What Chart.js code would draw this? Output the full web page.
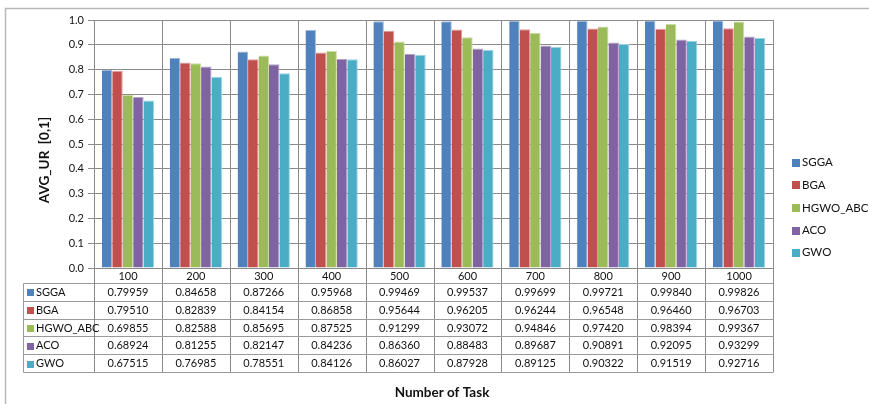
<!DOCTYPE html>
<html>
<head>
<meta charset="utf-8">
<script src="https://cdn.jsdelivr.net/npm/chart.js@4/dist/chart.umd.min.js"></script>
<style>
  html, body { margin: 0; padding: 0; background: #ffffff; }
  #wrap { width: 869px; height: 404px; }
</style>
</head>
<body>
<div id="wrap"><canvas id="c" width="869" height="404"></canvas></div>
<script>
// Task counts along the x axis
const categories = ['100', '200', '300', '400', '500', '600', '700', '800', '900', '1000'];

// Average utilisation rate per algorithm
const sgga     = [0.79959, 0.84658, 0.87266, 0.95968, 0.99469, 0.99537, 0.99699, 0.99721, 0.99840, 0.99826];
const bga      = [0.79510, 0.82839, 0.84154, 0.86858, 0.95644, 0.96205, 0.96244, 0.96548, 0.96460, 0.96703];
const hgwoAbc  = [0.69855, 0.82588, 0.85695, 0.87525, 0.91299, 0.93072, 0.94846, 0.97420, 0.98394, 0.99367];
const aco      = [0.68924, 0.81255, 0.82147, 0.84236, 0.86360, 0.88483, 0.89687, 0.90891, 0.92095, 0.93299];
const gwo      = [0.67515, 0.76985, 0.78551, 0.84126, 0.86027, 0.87928, 0.89125, 0.90322, 0.91519, 0.92716];

const seriesNames = ['SGGA', 'BGA', 'HGWO_ABC', 'ACO', 'GWO'];
const seriesData = [sgga, bga, hgwoAbc, aco, gwo];

// y-axis tick labels
const yTickLabels = ['0.0', '0.1', '0.2', '0.3', '0.4', '0.5', '0.6', '0.7', '0.8', '0.9', '1.0'];

const xTitle = 'Number of Task';
const yTitle = 'AVG_UR  [0,1]';

const colors = ['#4F81BD', '#C0504D', '#9BBB59', '#8064A2', '#4BACC6'];
const edgeColors = ['#9DB8DC', '#DE9C9A', '#C9DCA3', '#B4A2C9', '#9BD2E1'];

const FONT = 'Lato, "Open Sans", sans-serif';
const TEXT = '#111111';
const GRID = '#8a8a8a';
const TABLE_LINE = '#9a9a9a';

const datasets = seriesNames.map((name, i) => ({
  label: name,
  data: seriesData[i],
  backgroundColor: colors[i],
  borderColor: edgeColors[i],
  borderWidth: { top: 1, right: 1, left: 0, bottom: 0 },
  borderSkipped: 'bottom',
  categoryPercentage: 0.77,
  barPercentage: 1.0
}));

// Frame, data table, legend and axis titles drawn around the plot
const decorations = {
  id: 'decorations',
  beforeDraw(chart) {
    const ctx = chart.ctx;
    ctx.save();
    ctx.fillStyle = '#ffffff';
    ctx.fillRect(0, 0, chart.width, chart.height);
    ctx.strokeStyle = '#b8b8b8';
    ctx.lineWidth = 1.5;
    ctx.strokeRect(5.5, 8.5, chart.width + 10, chart.height + 10);
    ctx.restore();
  },
  beforeDatasetsDraw(chart) {
    const ctx = chart.ctx;
    const area = chart.chartArea;
    const n = categories.length;
    const step = (area.right - area.left) / n;
    const tableBottom = area.bottom + 15 + 17.8 * seriesNames.length;
    ctx.save();
    ctx.strokeStyle = GRID;
    ctx.lineWidth = 1;
    for (let i = 0; i <= n; i++) {
      const x = Math.round(area.left + i * step) + 0.5;
      ctx.beginPath();
      ctx.moveTo(x, area.top);
      ctx.lineTo(x, tableBottom);
      ctx.stroke();
    }
    ctx.restore();
  },
  afterDraw(chart) {
    const ctx = chart.ctx;
    const area = chart.chartArea;
    const xScale = chart.scales.x;
    const headerBottom = area.bottom + 15;
    const rowH = 17.8;
    const tableLeft = 23.5;
    const tableBottom = headerBottom + rowH * seriesNames.length;

    ctx.save();
    // table grid
    ctx.strokeStyle = TABLE_LINE;
    ctx.lineWidth = 1;
    for (let r = 0; r <= seriesNames.length; r++) {
      const y = Math.round(headerBottom + r * rowH) + 0.5;
      ctx.beginPath();
      ctx.moveTo(tableLeft, y);
      ctx.lineTo(Math.round(area.right) + 0.5, y);
      ctx.stroke();
    }
    ctx.beginPath();
    ctx.moveTo(tableLeft, Math.round(headerBottom) + 0.5);
    ctx.lineTo(tableLeft, Math.round(tableBottom) + 0.5);
    ctx.stroke();
    ctx.strokeStyle = GRID;
    const axisX = Math.round(area.left) + 0.5;
    ctx.beginPath();
    ctx.moveTo(axisX, area.bottom);
    ctx.lineTo(axisX, tableBottom);
    ctx.stroke();

    // category header
    ctx.fillStyle = TEXT;
    ctx.font = '11px ' + FONT;
    ctx.textAlign = 'center';
    ctx.textBaseline = 'middle';
    categories.forEach((c, i) => {
      ctx.fillText(c, xScale.getPixelForValue(i), area.bottom + 8.5);
    });

    // rows
    seriesNames.forEach((name, r) => {
      const yMid = headerBottom + r * rowH + rowH / 2 + 0.5;
      ctx.fillStyle = colors[r];
      ctx.fillRect(27, Math.round(yMid) - 3, 7, 7);
      ctx.fillStyle = TEXT;
      ctx.textAlign = 'left';
      ctx.fillText(name, 36, yMid);
      ctx.textAlign = 'center';
      seriesData[r].forEach((v, i) => {
        ctx.fillText(v.toFixed(5), xScale.getPixelForValue(i), yMid);
      });
    });

    // legend
    const legendY = [162.5, 185, 208, 230.5, 252.5];
    ctx.font = '11.5px ' + FONT;
    seriesNames.forEach((name, r) => {
      ctx.fillStyle = colors[r];
      ctx.fillRect(792, Math.round(legendY[r]) - 4, 8, 8);
      ctx.fillStyle = TEXT;
      ctx.textAlign = 'left';
      ctx.fillText(name, 802, legendY[r]);
    });

    // axis titles
    ctx.font = 'bold 13.5px ' + FONT;
    ctx.fillStyle = TEXT;
    ctx.textAlign = 'center';
    ctx.fillText(xTitle, 442, 393);
    ctx.translate(45, 160);
    ctx.rotate(-Math.PI / 2);
    ctx.fillText(yTitle, 0, 0);
    ctx.restore();
  }
};

new Chart(document.getElementById('c'), {
  type: 'bar',
  data: { labels: categories, datasets },
  options: {
    responsive: false,
    animation: false,
    devicePixelRatio: 1,
    layout: { padding: { left: 0, right: 96, top: 20, bottom: 136 } },
    plugins: { legend: { display: false }, tooltip: { enabled: false } },
    scales: {
      x: {
        display: false,
        offset: true
      },
      y: {
        min: 0,
        max: 1,
        ticks: {
          stepSize: 0.1,
          padding: 4,
          color: TEXT,
          font: { family: FONT, size: 11 },
          callback: (v, i) => yTickLabels[i]
        },
        grid: { color: GRID, lineWidth: 1, tickLength: 6, drawTicks: true },
        border: { display: true, color: GRID },
        afterFit(scale) { scale.width = 94; }
      }
    }
  },
  plugins: [decorations]
});
</script>
</body>
</html>
